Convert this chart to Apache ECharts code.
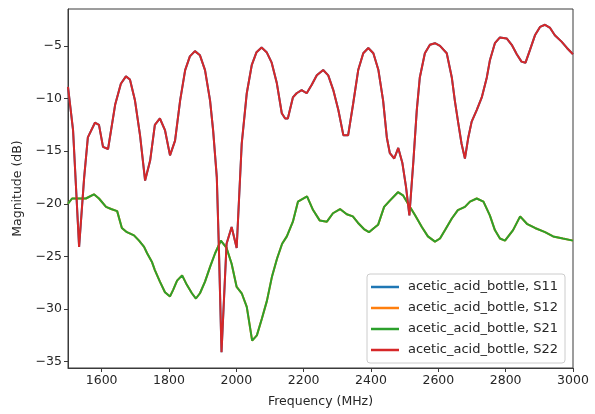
<!DOCTYPE html>
<html>
<head>
<meta charset="utf-8">
<script src="https://cdn.jsdelivr.net/npm/echarts@6/dist/echarts.min.js"></script>
<style>
html,body{margin:0;padding:0;background:#fff;}
#chart{width:595px;height:414px;}
</style>
</head>
<body>
<div id="chart"></div>
<script>
// S22 (S11 identical, drawn beneath)
const s22Freq = [1500,1515,1533,1548,1559,1580,1592,1604,1619,1640,1657,1672,1684,1699,1714,1729,1744,1758,1773,1788,1803,1818,1833,1848,1862,1877,1892,1907,1922,1931,1942,1948,1956,1971,1986,2001,2016,2031,2046,2060,2075,2090,2105,2120,2135,2145,2153,2168,2179,2194,2209,2224,2239,2258,2273,2288,2303,2318,2332,2347,2362,2377,2392,2407,2422,2436,2447,2456,2469,2481,2493,2504,2514,2526,2536,2545,2560,2575,2590,2605,2625,2640,2649,2659,2669,2679,2689,2699,2714,2729,2744,2753,2768,2783,2803,2818,2833,2847,2859,2872,2887,2902,2917,2932,2946,2966,2982,3000];
const s22Mag = [-8.9,-13,-24.1,-17.5,-13.7,-12.3,-12.5,-14.6,-14.8,-10.6,-8.6,-7.9,-8.2,-10.2,-13.5,-17.8,-15.9,-12.5,-11.9,-13,-15.4,-14,-10.2,-7.3,-6,-5.5,-5.9,-7.3,-10.2,-13,-17.5,-24,-34.1,-23.8,-22.2,-24.2,-14.3,-9.5,-6.8,-5.6,-5.15,-5.6,-6.6,-8.5,-11.4,-11.9,-11.9,-9.9,-9.5,-9.2,-9.5,-8.7,-7.8,-7.3,-7.8,-9.2,-11.1,-13.5,-13.5,-10.5,-7.3,-5.7,-5.2,-5.7,-7.3,-10.2,-13.7,-15.2,-15.7,-14.7,-16.1,-18.4,-21.1,-15.9,-11.1,-8,-5.7,-4.9,-4.75,-5.0,-5.7,-8,-10.2,-12.3,-14.3,-15.7,-13.7,-12.2,-11.1,-9.9,-8,-6.4,-4.75,-4.2,-4.3,-4.9,-5.8,-6.5,-6.6,-5.4,-4,-3.2,-3.0,-3.3,-4,-4.6,-5.2,-5.8];

// S21 (S12 identical, drawn beneath)
const s21Freq = [1500,1512,1533,1553,1577,1592,1613,1628,1646,1660,1675,1696,1711,1726,1735,1749,1758,1773,1788,1803,1812,1824,1839,1853,1868,1880,1892,1907,1922,1937,1954,1971,1986,2001,2016,2031,2047,2061,2076,2091,2106,2121,2136,2150,2168,2183,2210,2228,2248,2269,2287,2308,2328,2346,2361,2379,2394,2409,2421,2439,2456,2480,2495,2510,2531,2551,2569,2590,2605,2620,2640,2658,2679,2694,2714,2734,2753,2768,2783,2798,2822,2843,2863,2887,2917,2941,2970,3000];
const s21Mag = [-20.0,-19.5,-19.5,-19.5,-19.1,-19.5,-20.3,-20.5,-20.7,-22.3,-22.7,-23.0,-23.5,-24.1,-24.7,-25.5,-26.3,-27.4,-28.4,-28.8,-28.2,-27.3,-26.8,-27.7,-28.5,-29.0,-28.5,-27.4,-26.0,-24.7,-23.5,-24.2,-25.7,-27.9,-28.5,-29.8,-33.0,-32.5,-30.9,-29.2,-26.9,-25.2,-23.8,-23.1,-21.7,-19.8,-19.3,-20.6,-21.6,-21.7,-20.9,-20.5,-21.0,-21.2,-21.8,-22.4,-22.7,-22.3,-22.0,-20.3,-19.7,-18.9,-19.2,-20.0,-21.1,-22.2,-23.1,-23.6,-23.3,-22.5,-21.4,-20.6,-20.3,-19.8,-19.5,-19.8,-21.1,-22.5,-23.3,-23.5,-22.5,-21.2,-21.9,-22.3,-22.7,-23.1,-23.3,-23.5];

const xTicks = [1600,1800,2000,2200,2400,2600,2800,3000];
const yTicks = [-35,-30,-25,-20,-15,-10,-5];
const seriesNames = ['acetic_acid_bottle, S11','acetic_acid_bottle, S12','acetic_acid_bottle, S21','acetic_acid_bottle, S22'];
const colors = ['#1f77b4','#ff7f0e','#2ca02c','#d62728'];

function pairs(f, m){ return f.map((v,i)=>[v,m[i]]); }

const FONT = '"DejaVu Sans", sans-serif';
const TXT = '#262626';
const AX = '#3a3a3a';

const chart = echarts.init(document.getElementById('chart'), null, {renderer:'canvas'});
const option = {
  animation:false,
  backgroundColor:'#fff',
  color: colors,
  grid:{left:68,right:22,top:9,bottom:46,containLabel:false,outerBoundsMode:'none',show:true,borderColor:AX,borderWidth:1,backgroundColor:'transparent'},
  legend:{
    orient:'vertical', left:367, top:274,
    data: seriesNames,
    icon:'rect', itemWidth:28, itemHeight:2.5, itemGap:7,
    padding:[6,7,6,4],
    backgroundColor:'rgba(255,255,255,0.8)', borderColor:'#cccccc', borderWidth:1, borderRadius:3,
    textStyle:{fontFamily:FONT,fontSize:13,color:TXT,lineHeight:14,padding:[0,0,0,4]}
  },
  xAxis:{
    type:'value', min:1500, max:3000,
    name:'Frequency (MHz)', nameLocation:'middle', nameGap:27,
    nameTextStyle:{fontFamily:FONT,fontSize:12.5,color:TXT},
    axisLine:{show:true,lineStyle:{color:AX,width:1}},
    axisTick:{show:true,inside:false,length:4,lineStyle:{color:AX,width:1},customValues:xTicks},
    axisLabel:{show:true,margin:6,fontFamily:FONT,fontSize:12.5,color:TXT,customValues:xTicks,formatter:v=>String(v)},
    splitLine:{show:false}
  },
  yAxis:{
    type:'value', min:-35.6, max:-1.5,
    name:'Magnitude (dB)', nameLocation:'middle', nameGap:44, nameRotate:90,
    nameTextStyle:{fontFamily:FONT,fontSize:12.5,color:TXT},
    axisLine:{show:true,lineStyle:{color:AX,width:1}},
    axisTick:{show:true,inside:false,length:4,lineStyle:{color:AX,width:1},customValues:yTicks},
    axisLabel:{show:true,margin:6,fontFamily:FONT,fontSize:12.5,color:TXT,customValues:yTicks,formatter:v=>String(v).replace('-','\u2212')},
    splitLine:{show:false}
  },
  series:[
    {name:seriesNames[0],type:'line',data:pairs(s22Freq,s22Mag),showSymbol:false,symbol:'none',lineStyle:{width:2,color:colors[0]},itemStyle:{color:colors[0]}},
    {name:seriesNames[1],type:'line',data:pairs(s21Freq,s21Mag),showSymbol:false,symbol:'none',lineStyle:{width:2,color:colors[1]},itemStyle:{color:colors[1]}},
    {name:seriesNames[2],type:'line',data:pairs(s21Freq,s21Mag),showSymbol:false,symbol:'none',lineStyle:{width:2,color:colors[2]},itemStyle:{color:colors[2]}},
    {name:seriesNames[3],type:'line',data:pairs(s22Freq,s22Mag),showSymbol:false,symbol:'none',lineStyle:{width:2,color:colors[3]},itemStyle:{color:colors[3]}}
  ]
};
chart.setOption(option);
</script>
</body>
</html>
